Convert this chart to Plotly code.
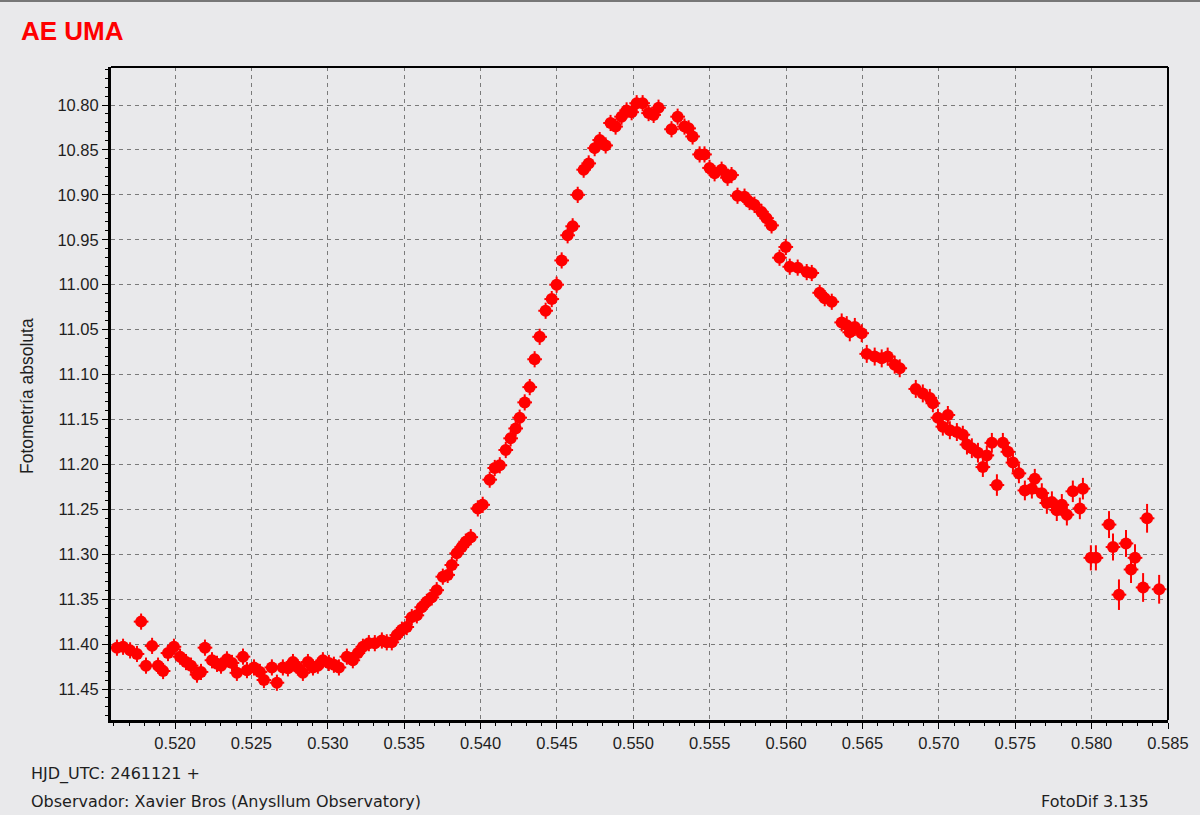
import plotly.graph_objects as go

# HJD_UTC - 2461121 (days)
hjd = [
    0.51620, 0.51660, 0.51706, 0.51751, 0.51778, 0.51810, 0.51850, 0.51889, 0.51922, 0.51954,
    0.51993, 0.52033, 0.52072, 0.52105, 0.52144, 0.52170, 0.52196, 0.52242, 0.52275, 0.52301,
    0.52340, 0.52373, 0.52405, 0.52445, 0.52471, 0.52517, 0.52556, 0.52582, 0.52634, 0.52667,
    0.52706, 0.52739, 0.52772, 0.52804, 0.52837, 0.52870, 0.52903, 0.52935, 0.52968, 0.53007,
    0.53040, 0.53073, 0.53125, 0.53164, 0.53197, 0.53230, 0.53269, 0.53308, 0.53354, 0.53386,
    0.53419, 0.53452, 0.53485, 0.53517, 0.53550, 0.53583, 0.53615, 0.53648, 0.53681, 0.53713,
    0.53753, 0.53785,
    0.53812, 0.53844, 0.53877, 0.53903, 0.53936, 0.53982, 0.54014, 0.54060, 0.54093, 0.54126,
    0.54165, 0.54197, 0.54230, 0.54256,
    0.54289, 0.54322, 0.54354, 0.54387, 0.54426, 0.54466, 0.54498, 0.54531, 0.54570, 0.54603,
    0.54636, 0.54675, 0.54708, 0.54747, 0.54780, 0.54819, 0.54851, 0.54884, 0.54923, 0.54956,
    0.54989, 0.55022, 0.55061, 0.55100, 0.55133, 0.55165, 0.55250, 0.55290, 0.55335, 0.55362,
    0.55388, 0.55434, 0.55466, 0.55499, 0.55532, 0.55578, 0.55617, 0.55643, 0.55682, 0.55728,
    0.55761, 0.55793, 0.55839, 0.55872, 0.55905, 0.55998, 0.55957, 0.56024, 0.56076, 0.56135,
    0.56168, 0.56220, 0.56253, 0.56299, 0.56364, 0.56397, 0.56417, 0.56450, 0.56495, 0.56528,
    0.56580, 0.56626, 0.56665, 0.56711, 0.56744, 0.56849, 0.56895, 0.56941, 0.56961, 0.56994,
    0.57059, 0.57026, 0.57072, 0.57118, 0.57157, 0.57184, 0.57216, 0.57256, 0.57288, 0.57314,
    0.57347, 0.57380, 0.57419, 0.57452, 0.57485, 0.57524, 0.57563, 0.57609, 0.57628, 0.57674,
    0.57707, 0.57740, 0.57772, 0.57805, 0.57838, 0.57877, 0.57923, 0.57943, 0.57995, 0.58028,
    0.58114, 0.58140, 0.58179, 0.58225, 0.58258, 0.58284, 0.58337, 0.58363, 0.58442,
]

# Absolute photometry (mag)
mag = [
    11.404, 11.403, 11.407, 11.411, 11.375, 11.424, 11.402, 11.424, 11.430, 11.410,
    11.403, 11.414, 11.420, 11.424, 11.434, 11.431, 11.404, 11.418, 11.422, 11.424,
    11.417, 11.421, 11.432, 11.414, 11.429, 11.426, 11.431, 11.440, 11.426, 11.443,
    11.426, 11.427, 11.420, 11.426, 11.432, 11.420, 11.426, 11.424, 11.418, 11.421,
    11.423, 11.426, 11.414, 11.418, 11.410, 11.403, 11.399, 11.399, 11.396, 11.398,
    11.398, 11.390, 11.384, 11.381, 11.370, 11.368, 11.359, 11.353, 11.348, 11.340,
    11.325, 11.323,
    11.312, 11.299, 11.292, 11.286, 11.281, 11.249, 11.245, 11.217, 11.204, 11.201,
    11.184, 11.171, 11.160, 11.148,
    11.131, 11.114, 11.083, 11.058, 11.029, 11.016, 11.000, 10.973, 10.945, 10.935,
    10.900, 10.872, 10.865, 10.848, 10.839, 10.845, 10.820, 10.824, 10.813, 10.806,
    10.808, 10.798, 10.798, 10.809, 10.811, 10.803, 10.827, 10.813, 10.824, 10.826,
    10.835, 10.855, 10.855, 10.870, 10.876, 10.872, 10.881, 10.878, 10.901, 10.902,
    10.908, 10.911, 10.919, 10.926, 10.934, 10.958, 10.970, 10.980, 10.981, 10.986,
    10.987, 11.009, 11.015, 11.019, 11.042, 11.045, 11.053, 11.047, 11.054, 11.077,
    11.080, 11.082, 11.080, 11.089, 11.093, 11.116, 11.121, 11.126, 11.132, 11.148,
    11.145, 11.158, 11.162, 11.164, 11.167, 11.178, 11.182, 11.187, 11.203, 11.190,
    11.176, 11.223, 11.176, 11.186, 11.198, 11.210, 11.229, 11.227, 11.216, 11.232,
    11.243, 11.242, 11.251, 11.245, 11.256, 11.230, 11.249, 11.227, 11.304, 11.304,
    11.267, 11.292, 11.345, 11.288, 11.317, 11.304, 11.337, 11.260, 11.339,
]

# Photometric error (mag)
err = [
    0.009, 0.009, 0.009, 0.009, 0.009, 0.009, 0.009, 0.009, 0.009, 0.009,
    0.009, 0.009, 0.009, 0.009, 0.009, 0.009, 0.009, 0.009, 0.009, 0.009,
    0.009, 0.009, 0.009, 0.009, 0.009, 0.009, 0.009, 0.009, 0.009, 0.009,
    0.009, 0.009, 0.009, 0.009, 0.009, 0.009, 0.009, 0.009, 0.009, 0.009,
    0.009, 0.009, 0.009, 0.009, 0.009, 0.009, 0.009, 0.009, 0.009, 0.009,
    0.009, 0.009, 0.009, 0.009, 0.009, 0.009, 0.009, 0.009, 0.009, 0.009,
    0.009, 0.009,
    0.009, 0.009, 0.009, 0.009, 0.009, 0.009, 0.009, 0.009, 0.009, 0.009,
    0.009, 0.009, 0.009, 0.009,
    0.009, 0.009, 0.009, 0.009, 0.009, 0.009, 0.009, 0.009, 0.009, 0.009,
    0.009, 0.009, 0.009, 0.009, 0.009, 0.009, 0.009, 0.009, 0.009, 0.009,
    0.009, 0.009, 0.009, 0.009, 0.009, 0.009, 0.009, 0.009, 0.009, 0.009,
    0.009, 0.009, 0.009, 0.009, 0.009, 0.009, 0.009, 0.009, 0.009, 0.009,
    0.009, 0.009, 0.009, 0.009, 0.009, 0.009, 0.009, 0.009, 0.009, 0.009,
    0.009, 0.009, 0.009, 0.009, 0.010, 0.010, 0.010, 0.010, 0.010, 0.010,
    0.010, 0.010, 0.010, 0.010, 0.010, 0.010, 0.010, 0.010, 0.010, 0.010,
    0.010, 0.010, 0.010, 0.010, 0.010, 0.011, 0.011, 0.011, 0.011, 0.011,
    0.011, 0.012, 0.011, 0.011, 0.011, 0.011, 0.011, 0.011, 0.011, 0.011,
    0.012, 0.012, 0.012, 0.012, 0.012, 0.012, 0.012, 0.012, 0.014, 0.014,
    0.015, 0.015, 0.017, 0.015, 0.015, 0.015, 0.016, 0.016, 0.016,
]

x_ticks = [0.520, 0.525, 0.530, 0.535, 0.540, 0.545, 0.550, 0.555, 0.560, 0.565, 0.570, 0.575, 0.580, 0.585]
y_ticks = [10.80, 10.85, 10.90, 10.95, 11.00, 11.05, 11.10, 11.15, 11.20, 11.25, 11.30, 11.35, 11.40, 11.45]

BG = "#e9e9eb"
RED = "#ff0000"
TICKFONT = dict(family="Liberation Sans, Arial, sans-serif", size=16.5, color="#1e1e1e")
FOOTFONT = dict(family="DejaVu Sans, Tahoma, sans-serif", size=16, color="#1e1e1e")

fig = go.Figure()
fig.add_trace(go.Scatter(
    x=hjd, y=mag, mode="markers",
    marker=dict(symbol="circle", size=12, color=RED, line=dict(width=0)),
    error_y=dict(type="data", array=err, visible=True, color=RED, thickness=2, width=0),
    error_x=dict(type="constant", value=0.00048, visible=True, color=RED, thickness=2, width=0),
    showlegend=False, hoverinfo="x+y",
))

grid = dict(showgrid=True, gridcolor="#7a7a7a", gridwidth=1, griddash="4px,4px")

fig.update_xaxes(
    range=[0.51581, 0.585], tickvals=x_ticks, ticktext=[f"{v:.3f}" for v in x_ticks],
    ticks="outside", ticklen=6, tickwidth=1, tickcolor="#000",
    minor=dict(dtick=0.001, tick0=0.52, ticks="outside", ticklen=3, tickcolor="#000", showgrid=False),
    showline=True, linecolor="#000", linewidth=3, zeroline=False,
    tickfont=TICKFONT, **grid,
)
fig.update_yaxes(
    range=[11.4845, 10.7577], tickvals=y_ticks, ticktext=[f"{v:.2f}" for v in y_ticks],
    ticks="outside", ticklen=6, tickwidth=1, tickcolor="#000",
    minor=dict(dtick=0.01, tick0=10.8, ticks="outside", ticklen=3, tickcolor="#000", showgrid=False),
    showline=True, linecolor="#000", linewidth=3, zeroline=False,
    tickfont=TICKFONT, **grid,
)

# top and right frame lines (thinner)
fig.add_shape(type="line", xref="paper", yref="paper", x0=0, x1=1, y0=1, y1=1,
              line=dict(color="#000", width=2))
fig.add_shape(type="line", xref="paper", yref="paper", x0=1, x1=1, y0=0, y1=1,
              line=dict(color="#000", width=2))

PW, PH, L, T = 1057.0, 653.0, 111.0, 67.0

def px(xp):
    return (xp - L) / PW

def py(yp):
    return (T + PH - yp) / PH

# window top border
fig.add_shape(type="line", xref="paper", yref="paper", x0=px(0), x1=px(1200), y0=py(1), y1=py(1),
              line=dict(color="#777", width=2))

fig.add_annotation(text="Fotometría absoluta", xref="paper", yref="paper",
                   x=px(27), y=py(396), textangle=-90, showarrow=False,
                   xanchor="center", yanchor="middle",
                   font=dict(family="Liberation Sans, Arial, sans-serif", size=17.5, color="#1e1e1e"))
fig.add_annotation(text="HJD_UTC: 2461121 +", xref="paper", yref="paper",
                   x=px(29), y=py(774), showarrow=False, xanchor="left", yanchor="middle", font=FOOTFONT)
fig.add_annotation(text="Observador: Xavier Bros (Anysllum Observatory)", xref="paper", yref="paper",
                   x=px(29), y=py(801), showarrow=False, xanchor="left", yanchor="middle", font=FOOTFONT)
fig.add_annotation(text="FotoDif 3.135", xref="paper", yref="paper",
                   x=px(1151), y=py(801), showarrow=False, xanchor="right", yanchor="middle", font=FOOTFONT)

fig.update_layout(
    width=1200, height=815,
    margin=dict(l=111, r=32, t=67, b=95),
    paper_bgcolor=BG, plot_bgcolor=BG,
    title=dict(text="<b>AE UMA</b>", x=21 / 1200, xanchor="left", y=1 - 31 / 815, yanchor="middle",
               xref="container", yref="container",
               font=dict(family="Liberation Sans, Arial, sans-serif", size=26, color=RED)),
)

fig.write_html("out.html", config={"displayModeBar": False},
               post_script="document.body.style.margin='0';document.body.style.padding='0';"
                           "document.body.style.overflow='hidden';")
